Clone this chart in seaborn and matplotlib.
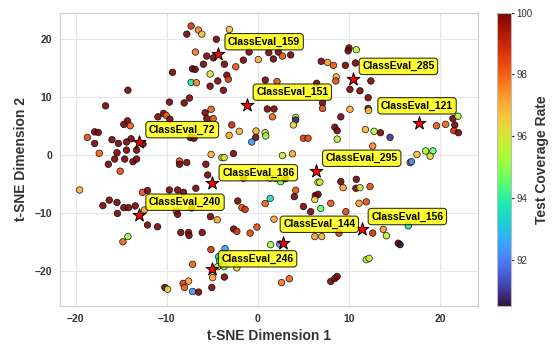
import numpy as np
import pandas as pd
import matplotlib
matplotlib.use("Agg")
import matplotlib.pyplot as plt
import seaborn as sns

# ---------------- data ----------------
tsne_x = [
    # upper-left
    -14.25, -16.7, -9.36, -9.7, -10.96, -10.35, -10.05, -9.65, -14.3, -14.7, -14.0, -18.7,
    -17.9, -17.5, -16.0, -15.3, -17.9, -13.9, -14.4, -12.6, -17.4, -15.45, -14.4, -13.3,
    # lower-left
    -16.4, -15.7, -14.6, -13.7, -13.3, -15.1, -19.55, -17.0, -16.3, -15.45, -15.4, -14.7,
    -14.2, -13.45, -12.65, -12.1, -12.45, -12.1, -11.0, -14.25, -14.8, -9.7, -8.8, -8.15,
    -6.8, -8.95, -8.8, -7.25, -8.6, -8.6, -7.8, -5.7, -5.5, -1.6, -2.2, -1.75,
    -1.4, -5.2, -4.45, -2.65, -2.3, -0.85, -0.1, -8.45, -7.6, -7.55, -6.1, -5.15,
    -7.15, -3.6, -4.3, -4.2, -3.7, -4.4, -2.3, -4.95, -3.67, -5.05, -10.2, -9.9,
    -8.2, -8.05, -7.6, -7.15, -6.5,
    # upper-middle
    -7.32, -7.79, -6.52, -6.14, -3.12, -4.55, -6.85, -5.6, -4.87, -3.67, -5.97, -7.17,
    -6.88, -2.42, -1.59, -0.96, -5.24, -3.4, -3.23, -4.39, -7.32, -6.74, -5.24, -3.78,
    -7.5, -8.08, -5.13, -5.78, -5.6, -4.9, -2.86, -2.03, -3.15, -7.4, -7.0, -5.13,
    -2.68, -0.23, -0.67, -3.95, -3.7, 0.05, 1.2, 1.7, 2.25, 2.7, 3.6, 0.82,
    2.1, 1.04, 1.77, 1.6, 4.15, 4.15, 3.9, -0.2, 0.79, 0.87, 5.0, 5.5,
    2.7, 3.8,
    # upper-right
    10.0, 9.9, 10.8, 6.95, 7.65, 8.3, 9.6, 10.7, 8.6, 8.55, 12.4, 10.1,
    11.2, 12.1, 10.1, 12.1, 12.15, 9.1, 6.45, 7.1, 7.1, 8.45, 8.7, 8.7,
    11.8, 12.75, 13.45, 14.5, 12.6, 17.45, 18.4, 19.2, 18.9, 19.6, 20.6, 21.4,
    21.95, 21.6, 21.5, 22.0,
    # lower-right
    16.7, 16.85, 1.35, 1.9, 2.5, 3.0, 4.15, 4.0, 1.35, 0.8, 1.77, 5.0,
    5.8, 6.9, 8.0, 9.65, 6.3, 6.6, 6.25, 6.6, 6.8, 9.1, 9.35, 10.8,
    10.75, 11.2, 12.3, 11.1, 11.9, 1.4, 2.4, 6.25, 7.0, 8.9, 12.6, 13.75,
    14.1, 16.5, 15.4, 15.6, 11.9, 12.2, 2.6, 3.45, 8.0, 8.45, 8.7,
]
tsne_y = [
    11.2, 8.5, 14.3, 9.15, 6.6, 7.2, 6.85, 6.2, 5.9, 5.3, 5.05, 3.05,
    4.0, 3.9, 2.65, 2.0, 2.0, 2.8, 2.25, 1.9, 0.3, 0.4, 0.85, 0.85,
    -1.6, -0.7, -0.7, -1.15, -0.7, -2.8, -6.05, -8.75, -7.8, -8.2, -10.1, -9.1,
    -9.1, -8.8, -6.45, -6.15, -9.5, -12.1, -12.4, -14.1, -15.0, -6.05, -6.05, -6.45,
    -5.75, -9.7, -10.25, -9.15, -1.05, -1.6, -1.3, -1.6, -3.45, -4.0, -7.95, -9.1,
    -9.4, -10.65, -11.2, -12.8, -13.2, -13.5, -12.45, -13.4, -13.4, -13.9, -13.4, -16.35,
    -18.9, -16.2, -17.6, -18.3, -19.3, -19.3, -19.5, -21.2, -21.1, -22.9, -22.9, -23.2,
    -22.2, -22.9, -21.8, -23.6, -23.7,
    22.3, 20.9, 21.6, 20.9, 21.7, 20.0, 17.8, 17.1, 16.8, 15.7, 15.7, 14.9,
    14.8, 15.25, 16.4, 17.8, 14.0, 13.8, 13.1, 12.8, 12.55, 12.5, 11.9, 11.2,
    9.85, 9.0, 7.9, 7.3, 6.3, 6.3, 5.2, 4.1, 3.4, 3.0, 2.9, 0.1,
    0.25, 3.05, 2.25, -0.45, -0.45, 16.5, 17.7, 16.6, 17.8, 17.1, 17.3, 12.95,
    12.7, 7.95, 7.95, 6.6, 6.5, 6.05, 5.2, 4.15, 3.85, 3.3, 2.9, 2.9,
    -0.1, 0.2,
    18.5, 18.0, 18.2, 16.2, 16.0, 15.5, 15.5, 15.9, 13.5, 12.8, 12.8, 11.35,
    11.1, 9.9, 7.9, 8.05, 7.7, 6.6, 12.4, 9.0, 8.05, 4.8, 4.2, 2.75,
    4.4, 4.1, 3.85, 3.05, 1.55, 0.1, 0.7, 0.7, -0.2, 5.05, 5.3, 6.3,
    6.7, 5.2, 4.2, 3.85,
    -1.3, -1.15, -4.0, -4.0, -4.6, -4.1, -6.1, -7.2, -7.5, -8.4, -11.1, -8.9,
    -9.8, -9.25, -8.35, -9.8, -7.0, -6.8, -7.7, -4.7, -4.7, -4.6, -5.65, -4.2,
    -5.75, -5.65, -5.45, -8.35, -8.1, -15.5, -15.4, -14.1, -14.1, -13.5, -13.5, -12.85,
    -13.95, -12.25, -15.25, -15.5, -18.1, -17.85, -22.05, -21.4, -21.85, -21.35, -21.0,
]
coverage = [
    100, 100, 100, 100, 100, 100, 98.1, 100, 100, 100, 98.1, 98.3,
    100, 100, 100, 100, 100, 100, 100, 100, 98.0, 100, 100, 100,
    100, 100, 100, 100, 100, 98.3, 97.0, 100, 100, 100, 100, 100,
    100, 100, 98.3, 100, 97.2, 100, 100, 95.0, 98.0, 100, 100, 100,
    100, 98.2, 100, 100, 98.0, 100, 100, 100, 100, 100, 100, 98.2,
    98.8, 100, 97.2, 100, 98.8, 98.5, 98.3, 100, 100, 100, 100, 98.8,
    98.0, 92.5, 93.8, 94.5, 94.8, 95.3, 96.3, 97.2, 100, 100, 100, 96.3,
    98.6, 98.0, 97.2, 92.3, 100,
    98.8, 100, 97.6, 96.8, 96.8, 100, 97.8, 100, 100, 100, 100, 100,
    100, 98.2, 100, 100, 96.0, 100, 98.7, 100, 93.7, 97.6, 100, 100,
    100, 100, 98.0, 100, 100, 98.3, 99.0, 97.0, 97.2, 100, 100, 97.0,
    100, 100, 92.3, 96.5, 95.8, 97.0, 100, 100, 100, 98.2, 100, 100,
    98.2, 100, 100, 98.0, 95.6, 90.8, 96.5, 97.0, 96.3, 95.0, 98.6, 98.4,
    95.8, 97.2,
    100, 100, 95.6, 100, 97.3, 98.2, 100, 100, 97.0, 98.3, 100, 100,
    100, 100, 97.0, 100, 96.5, 100, 100, 100, 98.3, 100, 100, 95.7,
    97.0, 95.6, 100, 91.0, 97.6, 96.8, 95.3, 94.6, 96.3, 98.2, 98.0, 100,
    95.3, 100, 98.8, 100,
    98.0, 92.3, 95.7, 95.7, 94.8, 100, 98.2, 100, 93.5, 98.0, 97.2, 100,
    100, 94.6, 98.2, 98.5, 100, 100, 96.3, 95.8, 95.8, 100, 97.2, 100,
    100, 95.8, 98.3, 97.3, 98.3, 95.2, 92.3, 97.2, 97.0, 98.6, 98.8, 97.4,
    95.6, 93.8, 100, 90.5, 95.3, 95.7, 97.8, 98.0, 100, 100, 100,
]

star_names = ["ClassEval_159", "ClassEval_285", "ClassEval_151", "ClassEval_121",
              "ClassEval_72", "ClassEval_295", "ClassEval_186", "ClassEval_240",
              "ClassEval_144", "ClassEval_156", "ClassEval_246"]
star_x = [-4.33, 10.39, -1.24, 17.69, -13.01, 6.37, -4.98, -13.01, 2.79, 11.38, -5.05]
star_y = [17.39, 13.13, 8.67, 5.47, 2.19, -2.76, -4.89, -10.36, -15.25, -12.83, -19.78]

x_label = "t-SNE Dimension 1"
y_label = "t-SNE Dimension 2"
cbar_label = "Test Coverage Rate"

# ---------------- plotting ----------------
sns.set_style("whitegrid")
plt.rcParams["font.family"] = ["Liberation Sans", "DejaVu Sans"]

df = pd.DataFrame({"x": tsne_x, "y": tsne_y, "rate": coverage})
stars = pd.DataFrame({"x": star_x, "y": star_y, "name": star_names})

vmin, vmax = min(coverage), max(coverage)
cmap = plt.get_cmap("turbo")

fig = plt.figure(figsize=(5.52, 3.47), dpi=100)
ax = fig.add_axes([0.1087, 0.1182, 0.7581, 0.8452])
cax = fig.add_axes([0.9004, 0.1182, 0.0254, 0.8452])

sns.scatterplot(data=df, x="x", y="y", hue="rate", palette="turbo",
                hue_norm=(vmin, vmax), s=22, edgecolor="black", linewidth=0.5,
                alpha=0.9, legend=False, ax=ax, zorder=3)

sns.scatterplot(data=stars, x="x", y="y", marker="*", s=95, color="red",
                edgecolor="black", linewidth=0.7, legend=False, ax=ax, zorder=5)

offsets = {"ClassEval_121": (-1.5, 9, "center"),
           "ClassEval_144": (0, 10, "left"),
           "ClassEval_186": (7, 4, "left"),
           "ClassEval_246": (7, 4, "left")}
for sx, sy, name in zip(star_x, star_y, star_names):
    dx, dy, ha = offsets.get(name, (7, 5.5, "left"))
    ax.annotate(name, (sx, sy), xytext=(dx, dy), textcoords="offset points",
                ha=ha, va="bottom", fontsize=7.5, fontweight="bold", color="black",
                bbox=dict(boxstyle="round,pad=0.3", fc="yellow", ec="black",
                          lw=0.8, alpha=0.8), zorder=6)

ax.set_xlim(-21.7, 24.2)
ax.set_ylim(-26.1, 24.6)
ax.set_xticks([-20, -10, 0, 10, 20])
ax.set_yticks([-20, -10, 0, 10, 20])
ax.tick_params(labelsize=7.5, colors="#333333", pad=2)
for lab in ax.get_xticklabels() + ax.get_yticklabels():
    lab.set_fontweight("bold")
ax.set_xlabel(x_label, fontsize=10, fontweight="bold", color="#333333", labelpad=4)
ax.set_ylabel(y_label, fontsize=10, fontweight="bold", color="#333333", labelpad=5)
ax.grid(True, color="#e6e6e6", linewidth=0.8)
for sp in ax.spines.values():
    sp.set_color("#cccccc")

sm = plt.cm.ScalarMappable(cmap=cmap, norm=plt.Normalize(vmin, vmax))
sm.set_array([])
cb = fig.colorbar(sm, cax=cax)
cb.set_ticks([92, 94, 96, 98, 100])
cb.ax.tick_params(labelsize=7, colors="#333333", length=2, pad=2)
cb.outline.set_edgecolor("#bbbbbb")
cb.set_label(cbar_label, fontsize=10, fontweight="bold", color="#333333", labelpad=2)

fig.savefig("out.png", dpi=100)
